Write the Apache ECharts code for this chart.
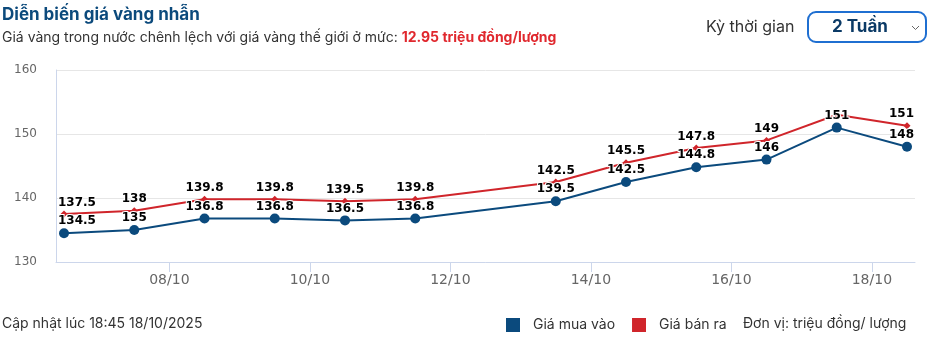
<!DOCTYPE html>
<html>
<head>
<meta charset="utf-8">
<script src="https://cdn.jsdelivr.net/npm/echarts@6/dist/echarts.min.js"></script>
<style>
  html, body { margin: 0; padding: 0; background: #fff; }
  #chart { width: 930px; height: 353px; }
</style>
</head>
<body>
<div id="chart"></div>
<script>
// Data (day of October 2025, noon positions)
const dayPositions = [6.5, 7.5, 8.5, 9.5, 10.5, 11.5, 13.5, 14.5, 15.5, 16.5, 17.5, 18.5];
const buyValues  = [134.5, 135, 136.8, 136.8, 136.5, 136.8, 139.5, 142.5, 144.8, 146, 151, 148];
const sellValues = [137.5, 138, 139.8, 139.8, 139.5, 139.8, 142.5, 145.5, 147.8, 149, 153, 151.3];
// label text shown for sell points ('' = label hidden because it overlapped)
const sellLabels = ['137.5', '138', '139.8', '139.8', '139.5', '139.8', '142.5', '145.5', '147.8', '149', '', '151'];
const xTickDays = [8, 10, 12, 14, 16, 18];
const xTickLabels = ['08/10', '10/10', '12/10', '14/10', '16/10', '18/10'];
const yTicks = [130, 140, 150, 160];

const BLUE = '#0b4a7d';
const RED = '#d0252b';
const uiFont = 'Inter, "Noto Sans", sans-serif';
const chartFont = '"DejaVu Sans", sans-serif';
const GRID_LEFT = 56, GRID_RIGHT = 15, W = 930;

const chart = echarts.init(document.getElementById('chart'), null, { renderer: 'canvas' });

const labelStyle = {
  show: true,
  position: 'top',
  fontFamily: chartFont,
  fontSize: 12,
  fontWeight: 'bold',
  color: '#000',
  textBorderColor: '#fff',
  textBorderWidth: 2
};

// keep data labels inside the plot area horizontally
function keepInside(p) {
  const r = p.labelRect;
  const lo = GRID_LEFT + 1, hi = W - GRID_RIGHT;
  if (r.x < lo) return { dx: lo - r.x };
  if (r.x + r.width > hi) return { dx: hi - (r.x + r.width) };
  return {};
}

chart.setOption({
  animation: false,
  textStyle: { fontFamily: uiFont },
  grid: { left: GRID_LEFT, right: GRID_RIGHT, top: 70, bottom: 91 },
  xAxis: {
    type: 'value',
    min: 6.386,
    max: 18.614,
    axisLine: { show: true, lineStyle: { color: '#ccd6eb', width: 1 } },
    axisTick: { show: true, length: 10, lineStyle: { color: '#ccd6eb' }, customValues: xTickDays },
    axisLabel: {
      customValues: xTickDays,
      formatter: (v) => xTickLabels[xTickDays.indexOf(v)] || '',
      fontFamily: chartFont, fontSize: 14, color: '#666', margin: 11
    },
    splitLine: { show: false }
  },
  yAxis: {
    type: 'value',
    min: yTicks[0],
    max: yTicks[yTicks.length - 1],
    interval: 10,
    axisLine: { show: true, lineStyle: { color: '#ccd6eb', width: 1 } },
    axisTick: { show: false },
    axisLabel: { fontFamily: chartFont, fontSize: 12, color: '#666', margin: 19 },
    splitLine: { show: true, lineStyle: { color: '#e6e6e6', width: 1 } }
  },
  legend: {
    left: 501,
    top: 313,
    icon: 'rect',
    itemWidth: 14,
    itemHeight: 14,
    itemGap: 17,
    selectedMode: false,
    textStyle: { fontFamily: uiFont, fontSize: 14, color: '#333', padding: [0, 0, 0, 8] },
    data: ['Giá mua vào', 'Giá bán ra']
  },
  graphic: [
    { type: 'text', left: 2, top: 6, style: { text: 'Diễn biến giá vàng nhẫn', font: 'bold 17px ' + uiFont, fill: '#0c4a7c' } },
    { type: 'text', left: 2, top: 31, style: {
        text: '{a|Giá vàng trong nước chênh lệch với giá vàng thế giới ở mức: }{b|12.95 triệu đồng/lượng}',
        rich: {
          a: { fontFamily: uiFont, fontSize: 14, fill: '#333' },
          b: { fontFamily: uiFont, fontSize: 14, fontWeight: 'bold', fill: '#e0282e' }
        }
    } },
    { type: 'text', left: 706, top: 19, style: { text: 'Kỳ thời gian', font: '16px ' + uiFont, fill: '#333' } },
    { type: 'rect', shape: { x: 808, y: 12, width: 118, height: 30, r: 8 }, style: { fill: '#fff', stroke: '#1f6fd1', lineWidth: 2 } },
    { type: 'text', left: 832, top: 18, style: { text: '2 Tuần', font: 'bold 17px ' + uiFont, fill: '#0b3a66' } },
    { type: 'polyline', shape: { points: [[912, 26], [915.5, 29.5], [919, 26]] }, style: { stroke: '#666', lineWidth: 1, fill: null } },
    { type: 'text', left: 2, top: 317, style: { text: 'Cập nhật lúc 18:45 18/10/2025', font: '14px ' + uiFont, fill: '#333' } },
    { type: 'text', left: 743, top: 317, style: { text: 'Đơn vị: triệu đồng/ lượng', font: '14px ' + uiFont, fill: '#333' } }
  ],
  series: [
    {
      name: 'Giá mua vào',
      type: 'line',
      data: dayPositions.map((d, i) => [d, buyValues[i]]),
      symbol: 'circle',
      symbolSize: 10,
      lineStyle: { color: BLUE, width: 2 },
      itemStyle: { color: BLUE },
      label: Object.assign({}, labelStyle, { distance: 1 }),
      labelLayout: keepInside,
      z: 3
    },
    {
      name: 'Giá bán ra',
      type: 'line',
      data: dayPositions.map((d, i) => ({
        value: [d, sellValues[i]],
        label: { show: sellLabels[i] !== '' }
      })),
      symbol: 'diamond',
      symbolSize: 7,
      lineStyle: { color: RED, width: 2 },
      itemStyle: { color: RED },
      label: Object.assign({}, labelStyle, { distance: 2, formatter: (p) => sellLabels[p.dataIndex] }),
      labelLayout: keepInside,
      z: 2
    }
  ]
});
</script>
</body>
</html>
